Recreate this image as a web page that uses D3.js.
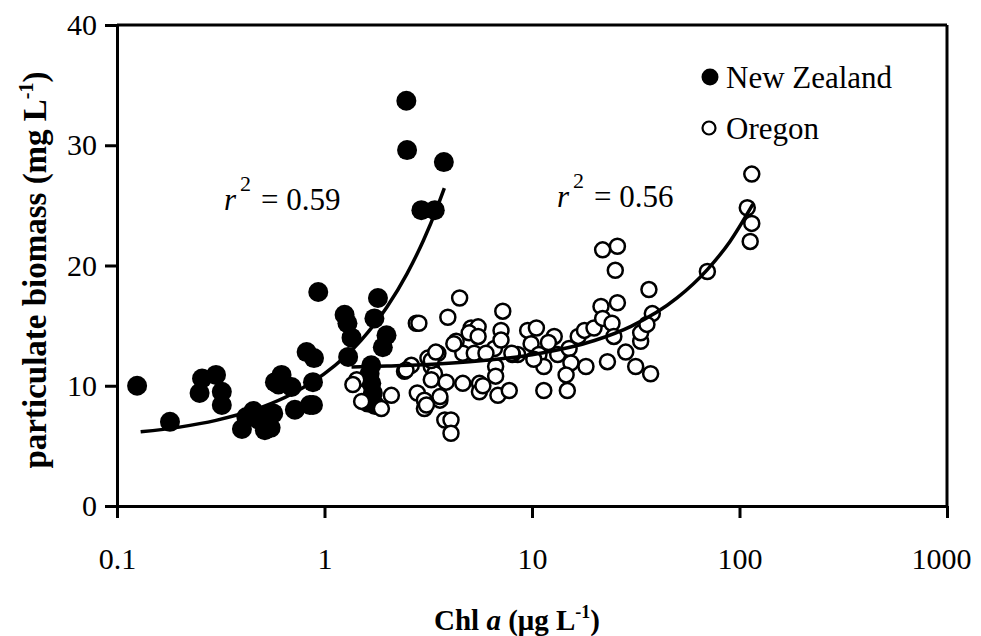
<!DOCTYPE html>
<html>
<head>
<meta charset="utf-8">
<script src="https://cdn.jsdelivr.net/npm/d3@7"></script>
<style>
  html, body { margin: 0; padding: 0; background: #fff; }
  svg { display: block; }
  text { font-family: "Liberation Serif", "Times New Roman", serif; fill: #000; }
</style>
</head>
<body>
<svg id="chart" width="981" height="636"></svg>
<script>
// ---- data ----
const xTicks = [0.1, 1, 10, 100, 1000];
const xTickLabels = ["0.1", "1", "10", "100", "1000"];
const yTicks = [0, 10, 20, 30, 40];
const yTickLabels = ["0", "10", "20", "30", "40"];

const nzChl = [0.125, 0.18, 0.25, 0.257, 0.30, 0.32, 0.32, 0.40, 0.42, 0.454, 0.48, 0.50, 0.516, 0.55, 0.566, 0.577, 0.60, 0.621, 0.694, 0.72, 0.85, 0.88, 0.88, 0.82, 0.89, 0.933, 1.25, 1.29, 1.35, 1.30, 1.81, 1.74, 1.99, 1.91, 1.68, 1.65, 1.68, 1.71, 1.62, 1.75, 2.48, 2.50, 3.76, 2.93, 3.40];
const nzBiomass = [10.0, 7.0, 9.4, 10.6, 10.9, 9.5, 8.4, 6.4, 7.4, 7.9, 7.2, 7.5, 6.3, 6.5, 7.7, 10.3, 10.1, 10.9, 9.9, 8.0, 8.4, 8.4, 10.3, 12.8, 12.3, 17.8, 15.9, 15.2, 14.0, 12.4, 17.3, 15.6, 14.2, 13.2, 11.7, 11.0, 10.2, 9.4, 8.6, 8.4, 33.7, 29.6, 28.6, 24.6, 24.6];

const orChl = [2.77, 2.85, 4.48, 3.93, 4.31, 5.09, 5.5, 4.98, 5.5, 4.64, 5.27, 3.52, 3.15, 3.27, 2.62, 2.43, 3.39, 3.27, 3.86, 4.64, 5.58, 5.58, 6.59, 7.23, 7.09, 7.09, 6.68, 6.68, 6.85, 7.77, 8.53, 8.05, 9.53, 10.5, 9.9, 10.8, 11.4, 11.4, 12.8, 13.3, 15.1, 15.4, 14.6, 14.8, 16.7, 18.2, 17.9, 19.9, 21.5, 21.9, 25.8, 24.3, 24.8, 21.9, 25.8, 25.2, 23.1, 28.3, 31.6, 37.3, 33.4, 33.4, 36.6, 38.0, 35.8, 70, 109, 114.6, 112.6, 114.6, 1.43, 1.37, 1.51, 1.88, 2.10, 2.8, 3.03, 3.6, 3.03, 3.8, 4.07, 4.07, 2.47, 4.2, 3.27, 3.44, 3.1, 3.6, 10.2, 12.0, 6.0, 5.8, 8.0];
const orBiomass = [15.2, 15.2, 17.3, 15.7, 13.7, 14.8, 14.9, 14.4, 14.1, 12.7, 12.7, 12.7, 12.3, 11.6, 11.7, 11.2, 11.0, 10.5, 10.3, 10.2, 10.2, 9.5, 13.1, 16.2, 14.6, 13.8, 11.6, 10.8, 9.2, 9.6, 12.6, 12.6, 14.6, 14.8, 13.5, 12.6, 11.6, 9.6, 14.1, 12.6, 13.1, 11.9, 10.9, 9.6, 14.1, 11.6, 14.6, 14.8, 16.6, 15.6, 16.9, 15.2, 14.1, 21.3, 21.6, 19.6, 12.0, 12.8, 11.6, 11.0, 13.7, 14.4, 18.0, 16.0, 15.1, 19.5, 24.8, 23.5, 22.0, 27.6, 10.5, 10.1, 8.7, 8.1, 9.2, 9.4, 8.8, 8.8, 8.1, 7.15, 7.15, 6.05, 11.3, 13.5, 12.1, 12.8, 8.4, 9.1, 12.2, 13.6, 12.7, 10.0, 12.7];

// fitted trend lines
const nzTrendChl = [0.13, 0.2, 0.3, 0.5, 0.7, 1.0, 1.5, 2.0, 2.5, 3.0, 3.5, 3.78];
const nzTrendBio = [6.17, 6.56, 7.12, 8.23, 9.34, 11.0, 13.78, 16.55, 19.33, 22.1, 24.88, 26.43];
const orTrendChl = [1.35, 2, 3, 5, 10, 20, 30, 50, 70, 90, 116];
const orTrendBio = [11.56, 11.64, 11.75, 11.99, 12.58, 13.76, 14.94, 17.3, 19.66, 22.0, 25.1];

const seriesNames = ["New Zealand", "Oregon"];
const r2Labels = ["0.59", "0.56"];

// ---- drawing ----
const svg = d3.select("#chart");
const x = d3.scaleLog().domain([0.1, 1000]).range([117, 947]);
const y = d3.scaleLinear().domain([0, 40]).range([506, 25]);

const axisW = 3;

// frame top & right
svg.append("line").attr("x1", x(0.1)).attr("x2", x(1000)).attr("y1", y(40)).attr("y2", y(40))
  .attr("stroke", "#000").attr("stroke-width", axisW);
svg.append("line").attr("x1", x(1000)).attr("x2", x(1000)).attr("y1", y(40)).attr("y2", y(0))
  .attr("stroke", "#000").attr("stroke-width", axisW);

// x axis
const xAxis = d3.axisBottom(x).tickValues(xTicks).tickFormat((d, i) => xTickLabels[i])
  .tickSizeInner(12).tickSizeOuter(0).tickPadding(30);
const gx = svg.append("g").attr("transform", `translate(0,${y(0)})`).call(xAxis);
gx.select(".domain").attr("stroke", "#000").attr("stroke-width", axisW);
gx.selectAll(".tick line").attr("stroke", "#000").attr("stroke-width", axisW);
gx.selectAll(".tick text").attr("font-size", 30).attr("font-family", "Liberation Serif, serif")
  .attr("dx", (d, i) => i === xTicks.length - 1 ? -6 : 0);

// y axis
const yAxis = d3.axisLeft(y).tickValues(yTicks).tickFormat((d, i) => yTickLabels[i])
  .tickSizeInner(12).tickSizeOuter(0).tickPadding(8);
const gy = svg.append("g").attr("transform", `translate(${x(0.1)},0)`).call(yAxis);
gy.select(".domain").attr("stroke", "#000").attr("stroke-width", axisW);
gy.selectAll(".tick line").attr("stroke", "#000").attr("stroke-width", axisW);
gy.selectAll(".tick text").attr("font-size", 30).attr("font-family", "Liberation Serif, serif");

// NZ points (filled)
const nz = nzChl.map((c, i) => ({ c, b: nzBiomass[i] }));
svg.append("g").selectAll("circle").data(nz).join("circle")
  .attr("cx", d => x(d.c)).attr("cy", d => y(d.b)).attr("r", 10).attr("fill", "#000");

// Oregon points (open)
const or = orChl.map((c, i) => ({ c, b: orBiomass[i] }));
svg.append("g").selectAll("circle").data(or).join("circle")
  .attr("cx", d => x(d.c)).attr("cy", d => y(d.b)).attr("r", 7.5)
  .attr("fill", "#fff").attr("stroke", "#000").attr("stroke-width", 2.5);

// trend lines
const line = d3.line().x(d => x(d[0])).y(d => y(d[1])).curve(d3.curveMonotoneX);
svg.append("path").attr("d", line(nzTrendChl.map((c, i) => [c, nzTrendBio[i]])))
  .attr("fill", "none").attr("stroke", "#000").attr("stroke-width", 3.5);
svg.append("path").attr("d", line(orTrendChl.map((c, i) => [c, orTrendBio[i]])))
  .attr("fill", "none").attr("stroke", "#000").attr("stroke-width", 3.5);

// r^2 labels
function r2(xp, yp, val) {
  const t = svg.append("text").attr("x", xp).attr("y", yp).attr("font-size", 31);
  t.append("tspan").attr("font-style", "italic").text("r");
  t.append("tspan").attr("font-size", 22).attr("dx", 4).attr("dy", -19).text("2");
  t.append("tspan").attr("dx", 10).attr("dy", 19).text("= " + val);
}
r2(224, 210, r2Labels[0]);
r2(557, 207, r2Labels[1]);

// legend
svg.append("circle").attr("cx", 710).attr("cy", 77).attr("r", 8.5).attr("fill", "#000");
svg.append("text").attr("x", 726).attr("y", 88).attr("font-size", 31).text(seriesNames[0]);
svg.append("circle").attr("cx", 709).attr("cy", 128).attr("r", 6.5)
  .attr("fill", "#fff").attr("stroke", "#000").attr("stroke-width", 2.2);
svg.append("text").attr("x", 726).attr("y", 139).attr("font-size", 31).text(seriesNames[1]);

// axis titles
const xt = svg.append("text").attr("x", 517).attr("y", 630).attr("text-anchor", "middle")
  .attr("font-size", 29).attr("font-weight", "bold");
xt.append("tspan").text("Chl ");
xt.append("tspan").attr("font-style", "italic").text("a");
xt.append("tspan").text("  (\u03bcg L");
xt.append("tspan").attr("font-size", 18).attr("dy", -12).text("-1");
xt.append("tspan").attr("dy", 12).text(")");

const yt = svg.append("text").attr("transform", "translate(46,270) rotate(-90)")
  .attr("text-anchor", "middle").attr("font-size", 33).attr("font-weight", "bold");
yt.append("tspan").text("particulate biomass (mg L");
yt.append("tspan").attr("font-size", 20).attr("dy", -13).text("-1");
yt.append("tspan").attr("dy", 13).text(")");
</script>
</body>
</html>
